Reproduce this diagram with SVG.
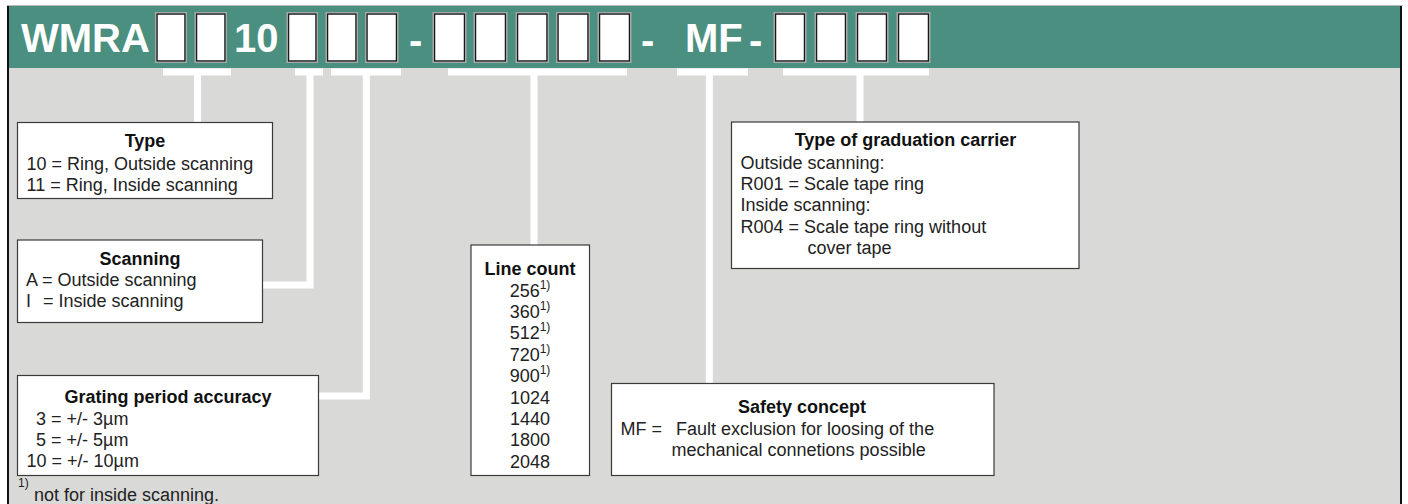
<svg xmlns="http://www.w3.org/2000/svg" width="1408" height="504" viewBox="0 0 1408 504">
<style>
.hdr{font-family:"Liberation Sans",Arial,sans-serif;font-weight:bold;font-size:40px;fill:#ffffff}
.slot{fill:#ffffff;stroke:#a8a8a8;stroke-width:1}
.slotin{fill:none;stroke:#1a1a1a;stroke-width:1.5}
.box{fill:#ffffff;stroke:#3a3a3a;stroke-width:1.2}
.t{font-family:"Liberation Sans",Arial,sans-serif;font-size:18px;fill:#222222}
.b{font-family:"Liberation Sans",Arial,sans-serif;font-size:18px;font-weight:bold;fill:#111111}
.c{text-anchor:middle}
.sup{font-size:12px}
.conn{fill:none;stroke:#ffffff;stroke-width:7;stroke-linejoin:miter;stroke-linecap:butt}
</style>
<rect x="0" y="0" width="1408" height="504" fill="#ffffff"/>
<rect x="9" y="68" width="1391" height="436" fill="#d9d9d7"/>
<rect x="9" y="6" width="1392" height="62" fill="#4a8f80"/>
<line x1="7" y1="5.5" x2="1403" y2="5.5" stroke="#b8b8b8" stroke-width="1"/>
<rect x="7" y="6" width="2" height="498" fill="#111111"/>
<rect x="1400" y="6" width="2" height="498" fill="#111111"/>

<g id="header">
<text class="hdr" x="21" y="52">WMRA</text>
<text class="hdr" x="234" y="52">10</text>
<text class="hdr" x="409" y="54">-</text>
<text class="hdr" x="641" y="54">-</text>
<text class="hdr" x="685" y="52">MF</text>
<text class="hdr" x="749" y="54">-</text>
<rect class="slot" x="155.5" y="12.5" width="31" height="50"/><rect class="slotin" x="157" y="14" width="28" height="47"/>
<rect class="slot" x="195" y="12.5" width="31.5" height="50"/><rect class="slotin" x="196.5" y="14" width="28.5" height="47"/>
<rect class="slot" x="287" y="12.5" width="30.5" height="50"/><rect class="slotin" x="288.5" y="14" width="27.5" height="47"/>
<rect class="slot" x="326" y="12.5" width="31.5" height="50"/><rect class="slotin" x="327.5" y="14" width="28.5" height="47"/>
<rect class="slot" x="365.5" y="12.5" width="32.5" height="50"/><rect class="slotin" x="367" y="14" width="29.5" height="47"/>
<rect class="slot" x="433" y="12.5" width="33" height="50"/><rect class="slotin" x="434.5" y="14" width="30" height="47"/>
<rect class="slot" x="474" y="12.5" width="33" height="50"/><rect class="slotin" x="475.5" y="14" width="30" height="47"/>
<rect class="slot" x="516" y="12.5" width="32.5" height="50"/><rect class="slotin" x="517.5" y="14" width="29.5" height="47"/>
<rect class="slot" x="556.5" y="12.5" width="33" height="50"/><rect class="slotin" x="558" y="14" width="30" height="47"/>
<rect class="slot" x="598" y="12.5" width="33" height="50"/><rect class="slotin" x="599.5" y="14" width="30" height="47"/>
<rect class="slot" x="774" y="12.5" width="32" height="50"/><rect class="slotin" x="775.5" y="14" width="29" height="47"/>
<rect class="slot" x="815" y="12.5" width="32" height="50"/><rect class="slotin" x="816.5" y="14" width="29" height="47"/>
<rect class="slot" x="856" y="12.5" width="32" height="50"/><rect class="slotin" x="857.5" y="14" width="29" height="47"/>
<rect class="slot" x="897" y="12.5" width="33" height="50"/><rect class="slotin" x="898.5" y="14" width="30" height="47"/>
</g>

<g id="connectors">
<path class="conn" d="M163,72 H231 M197.5,72 V122.5"/>
<path class="conn" d="M295,72 H323 M310,72 V285 H262"/>
<path class="conn" d="M331,72 H401 M366.3,72 V396 H318"/>
<path class="conn" d="M448,72 H627 M534,72 V245"/>
<path class="conn" d="M677,72 H748 M709.3,72 V383.5"/>
<path class="conn" d="M783,72 H929 M860,72 V122"/>
</g>

<g id="type">
<rect class="box" x="17.5" y="122.5" width="255" height="76"/>
<text class="b c" x="145" y="146.5">Type</text>
<text class="t" x="26.5" y="170">10 = Ring, Outside scanning</text>
<text class="t" x="26.5" y="191">11 = Ring, Inside scanning</text>
</g>

<g id="scanning">
<rect class="box" x="17.5" y="240" width="245" height="82.5"/>
<text class="b c" x="140" y="265">Scanning</text>
<text class="t" x="26" y="286">A = Outside scanning</text>
<text class="t" x="26" y="307">I</text>
<text class="t" x="43" y="307">= Inside scanning</text>
</g>

<g id="grating">
<rect class="box" x="17.5" y="375.5" width="301" height="100"/>
<text class="b c" x="168" y="403">Grating period accuracy</text>
<text class="t" x="36" y="425">3 = +/- 3µm</text>
<text class="t" x="36" y="446">5 = +/- 5µm</text>
<text class="t" x="26.5" y="467">10 = +/- 10µm</text>
</g>

<g id="linecount">
<rect class="box" x="471" y="245" width="118.5" height="230.5"/>
<text class="b c" x="530" y="275">Line count</text>
<text class="t c" x="530" y="297">256<tspan class="sup" dy="-8">1)</tspan></text>
<text class="t c" x="530" y="318">360<tspan class="sup" dy="-8">1)</tspan></text>
<text class="t c" x="530" y="339">512<tspan class="sup" dy="-8">1)</tspan></text>
<text class="t c" x="530" y="360.5">720<tspan class="sup" dy="-8">1)</tspan></text>
<text class="t c" x="530" y="382">900<tspan class="sup" dy="-8">1)</tspan></text>
<text class="t c" x="530" y="404">1024</text>
<text class="t c" x="530" y="425">1440</text>
<text class="t c" x="530" y="446">1800</text>
<text class="t c" x="530" y="467.5">2048</text>
</g>

<g id="safety">
<rect class="box" x="611.5" y="383.5" width="382.5" height="92"/>
<text class="b c" x="802" y="413">Safety concept</text>
<text class="t" x="620.5" y="435">MF =</text>
<text class="t" x="676" y="435">Fault exclusion for loosing of the</text>
<text class="t" x="671.5" y="456">mechanical connetions possible</text>
</g>

<g id="carrier">
<rect class="box" x="731.5" y="122" width="347.5" height="146.5"/>
<text class="b c" x="905.5" y="146">Type of graduation carrier</text>
<text class="t" x="740.5" y="168.5">Outside scanning:</text>
<text class="t" x="740.5" y="190">R001 = Scale tape ring</text>
<text class="t" x="740.5" y="211">Inside scanning:</text>
<text class="t" x="740.5" y="232.5">R004 = Scale tape ring without</text>
<text class="t" x="807.5" y="253.5">cover tape</text>
</g>

<g id="footnote">
<text class="t sup" x="18" y="486.5">1)</text>
<text class="t" x="34" y="501">not for inside scanning.</text>
</g>
</svg>
